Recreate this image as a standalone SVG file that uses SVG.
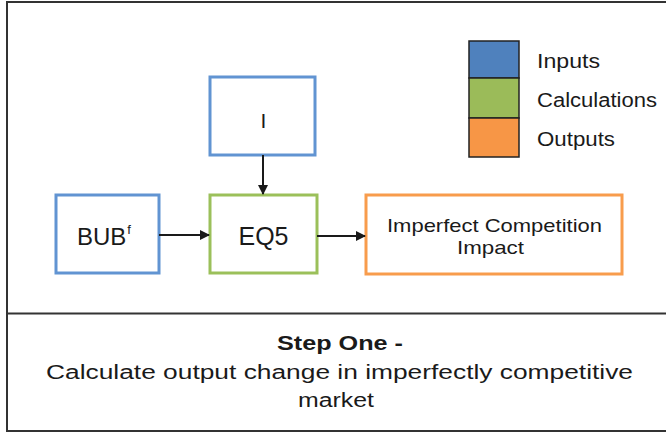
<svg xmlns="http://www.w3.org/2000/svg" width="666" height="432" viewBox="0 0 666 432">
<defs>
<style>
.t{font-family:"Liberation Sans",Arial,sans-serif;fill:#1a1a1a}
.in{fill:#fff;stroke:#6194d2;stroke-width:3}
.calc{fill:#fff;stroke:#9bc05a;stroke-width:3}
.out{fill:#fff;stroke:#f89c4c;stroke-width:3}
.frame{stroke:#333;stroke-width:2;fill:none}
.conn{stroke:#1a1a1a;stroke-width:2;fill:none;marker-end:url(#ah)}
.leg{stroke:#222;stroke-width:1.5}
</style>
<marker id="ah" markerWidth="10" markerHeight="10" refX="9" refY="5" orient="auto" markerUnits="userSpaceOnUse">
<path d="M0,0 L10,5 L0,10 Z" fill="#1a1a1a"/>
</marker>
</defs>
<rect width="666" height="432" fill="#fff"/>
<g id="frame">
<path class="frame" d="M667,2 H7 V431 H667"/>
<line class="frame" x1="7" y1="313.5" x2="667" y2="313.5"/>
</g>
<g id="legend">
<rect class="leg" x="469" y="41" width="50" height="37" fill="#4f81bd"/>
<rect class="leg" x="469" y="78" width="50" height="40" fill="#9bbb59"/>
<rect class="leg" x="469" y="118" width="50" height="39" fill="#f79646"/>
<text class="t" x="537" y="68" font-size="20" textLength="63" lengthAdjust="spacingAndGlyphs">Inputs</text>
<text class="t" x="537" y="107" font-size="20" textLength="120" lengthAdjust="spacingAndGlyphs">Calculations</text>
<text class="t" x="537" y="146" font-size="20" textLength="78" lengthAdjust="spacingAndGlyphs">Outputs</text>
</g>
<g id="node-I">
<rect class="in" x="210" y="77" width="105" height="78"/>
<text class="t" x="263.5" y="128" font-size="21" text-anchor="middle">I</text>
</g>
<g id="node-BUB">
<rect class="in" x="56" y="195" width="103" height="78"/>
<text class="t" x="77" y="245" font-size="24">BUB<tspan dx="1" dy="-11" font-size="13">f</tspan></text>
</g>
<g id="node-EQ5">
<rect class="calc" x="210" y="195" width="107" height="78"/>
<text class="t" x="263.5" y="245" font-size="25" text-anchor="middle" textLength="50" lengthAdjust="spacingAndGlyphs">EQ5</text>
</g>
<g id="node-impact">
<rect class="out" x="366" y="195" width="256" height="79"/>
<text class="t" x="494.5" y="232" font-size="19" text-anchor="middle" textLength="215" lengthAdjust="spacingAndGlyphs">Imperfect Competition</text>
<text class="t" x="490.5" y="254" font-size="19" text-anchor="middle" textLength="67" lengthAdjust="spacingAndGlyphs">Impact</text>
</g>
<g id="connectors">
<line class="conn" x1="263" y1="155" x2="263" y2="194"/>
<line class="conn" x1="159" y1="235" x2="209" y2="235"/>
<line class="conn" x1="317" y1="236" x2="365" y2="236"/>
</g>
<g id="caption">
<text class="t" x="340" y="350" font-size="20" font-weight="bold" text-anchor="middle" textLength="126" lengthAdjust="spacingAndGlyphs">Step One -</text>
<text class="t" x="339.5" y="379" font-size="20" text-anchor="middle" textLength="587" lengthAdjust="spacingAndGlyphs">Calculate output change in imperfectly competitive</text>
<text class="t" x="336" y="407" font-size="20" text-anchor="middle" textLength="76" lengthAdjust="spacingAndGlyphs">market</text>
</g>
</svg>
